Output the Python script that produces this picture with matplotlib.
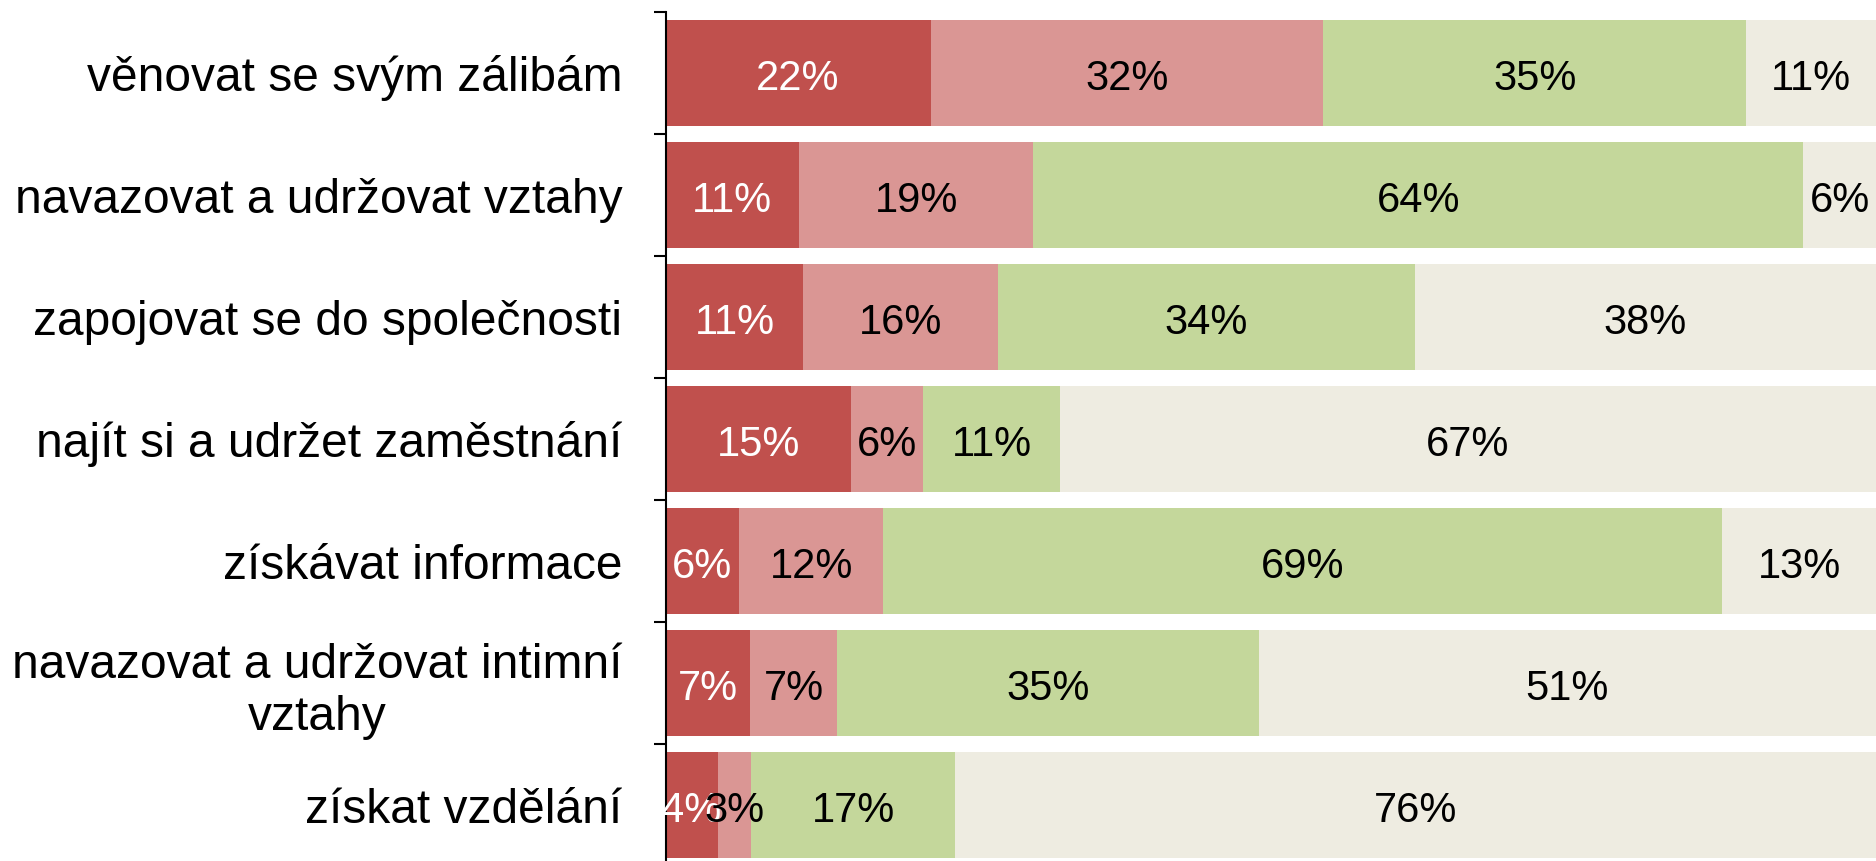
import matplotlib
matplotlib.use("Agg")
import matplotlib.pyplot as plt
import numpy as np

plt.rcParams['font.family'] = ['Liberation Sans', 'DejaVu Sans']

categories = ["věnovat se svým zálibám",
              "navazovat a udržovat vztahy",
              "zapojovat se do společnosti",
              "najít si a udržet zaměstnání",
              "získávat informace",
              "navazovat a udržovat intimní\nvztahy",
              "získat vzdělání"]

# percentages per segment (left to right)
seg1 = [21.9, 11.0, 11.4, 15.3, 6.1, 7.0, 4.3]
seg2 = [32.4, 19.4, 16.1, 6.0, 11.9, 7.2, 2.8]
seg3 = [35.0, 63.6, 34.4, 11.3, 69.3, 34.8, 16.8]
seg4 = [10.7, 6.0, 38.1, 67.4, 12.7, 51.0, 76.1]

colors = ['#C0504D', '#DA9694', '#C4D79B', '#EEECE1']
text_colors = ['white', 'black', 'black', 'black']

fig = plt.figure(figsize=(18.76, 8.61), dpi=100)
ax = fig.add_axes([665.5 / 1876, 1 - 866 / 861, 1 - 665.5 / 1876, 854 / 861])

y = np.arange(len(categories))
left = np.zeros(len(categories))
for vals, col, tcol in zip([seg1, seg2, seg3, seg4], colors, text_colors):
    vals = np.array(vals)
    ax.barh(y, vals, left=left, height=0.87, color=col, edgecolor='none')
    for yi, l, v in zip(y, left, vals):
        ax.annotate(f"{round(v)}%", (l + v / 2, yi), xytext=(0, -4),
                    textcoords='offset points', ha='center', va='center',
                    fontsize=30, color=tcol)
    left += vals

ax.set_xlim(0, 100)
ax.set_ylim(len(categories) - 0.5, -0.5)

ax.set_yticks(y)
ax.set_yticklabels(categories, fontsize=34.5, multialignment='center')
ax.tick_params(axis='y', which='major', length=0, pad=31)
ax.set_yticks(np.arange(-0.5, len(categories) + 0.5, 1), minor=True)
ax.tick_params(axis='y', which='minor', length=9, width=1.5, color='black')
ax.set_xticks([])

for s in ['top', 'right', 'bottom']:
    ax.spines[s].set_visible(False)
ax.spines['left'].set_linewidth(1.5)

fig.savefig("out.png", dpi=100)
